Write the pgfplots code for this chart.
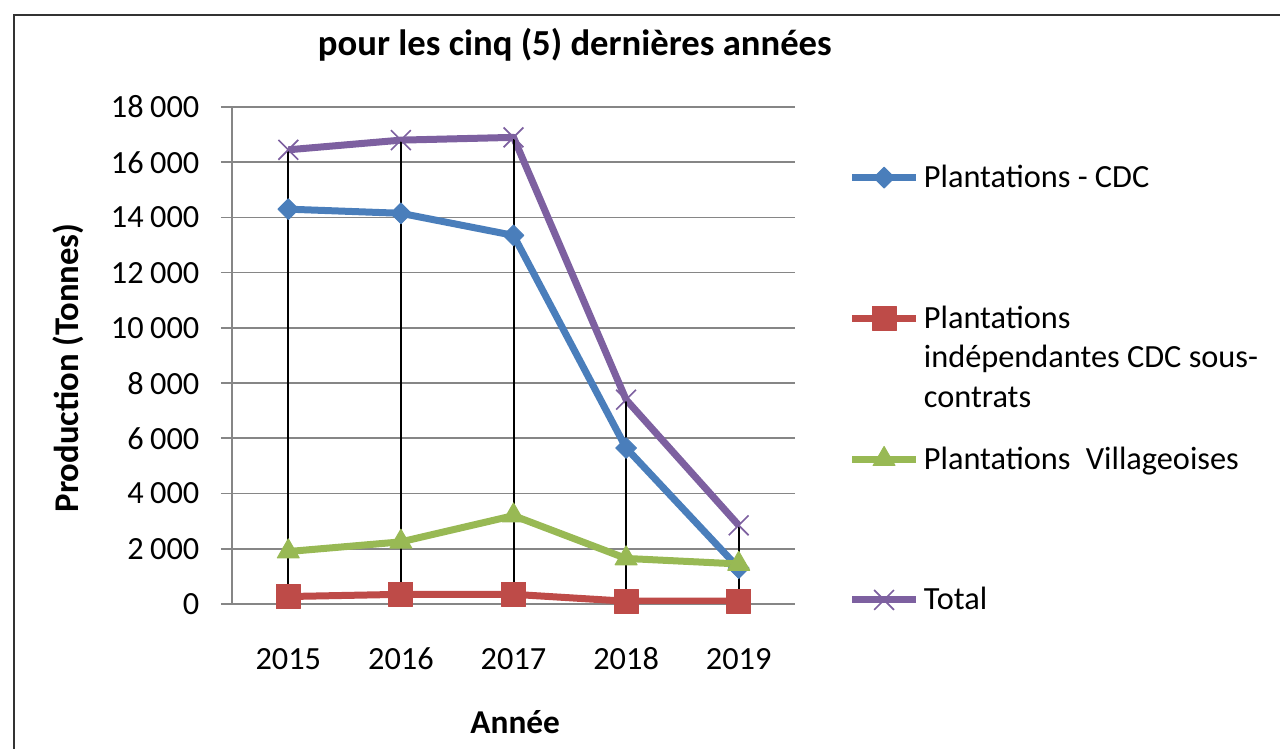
\documentclass[border=0pt]{standalone}
\usepackage{pgfplots}
\pgfplotsset{compat=1.18}
\usepackage{fontspec}
\setmainfont{Carlito}
\definecolor{cblue}{HTML}{4A7EBB}
\definecolor{cred}{HTML}{BE4B48}
\definecolor{cgreen}{HTML}{98B954}
\definecolor{cpurple}{HTML}{7D60A0}
\definecolor{cgrid}{HTML}{868686}
\begin{document}
\begin{tikzpicture}
\path[use as bounding box] (0,0) rectangle (384bp,224.7bp);
\draw[line width=0.5bp, black!80] (4.2bp,0) -- (4.2bp,220.2bp) -- (384bp,220.2bp);
\begin{axis}[
  at={(69.6bp,43.5bp)}, anchor=south west,
  scale only axis, width=168.9bp, height=149.1bp,
  xmin=-0.5, xmax=4.5, ymin=0, ymax=18000,
  xtick={0,1,2,3,4}, xticklabels={2015,2016,2017,2018,2019},
  ytick={0,2000,...,18000},
  scaled y ticks=false,
  axis x line*=bottom, axis y line*=left,
  axis line style={cgrid, line width=0.5bp},
  ymajorgrids, grid style={cgrid, line width=0.5bp},
  xtick style={draw=none}, ytick style={cgrid, line width=0.5bp},
  tick align=outside, major tick length=3.3bp,
  /pgf/number format/.cd, 1000 sep={\hspace{0.2em}}, assume math mode=true,
  /pgfplots/.cd,
  ticklabel style={font=\fontsize{9.7bp}{11bp}\selectfont},
  yticklabel style={inner sep=0pt, xshift=-6.3bp},
  xticklabel style={inner sep=0pt, anchor=base, yshift=-16.4bp},
  every axis title shift=0pt,
  title={pour les cinq (5) dernières années},
  title style={font=\bfseries\fontsize{11bp}{13bp}\selectfont, at={(axis description cs:0.609,1.125)}, anchor=center},
  xlabel={Année},
  xlabel style={font=\bfseries\fontsize{10bp}{12bp}\selectfont, at={(axis description cs:0.503,-0.237)}, anchor=center},
  ylabel={Production (Tonnes)},
  ylabel style={font=\bfseries\fontsize{10.4bp}{12bp}\selectfont, at={(axis description cs:-0.291,0.475)}, anchor=center},
  legend style={at={(axis description cs:1.094,0.893)}, anchor=north west, draw=none, fill=none, inner sep=0pt,
    font=\fontsize{9.7bp}{11.85bp}\selectfont, cells={anchor=base west}, row sep=31.4bp, column sep=0pt,
    nodes={inner sep=1.3bp}},
  legend image code/.code={\draw[mark repeat=2,mark phase=2,#1] plot coordinates {(0bp,3bp)(9.6bp,3bp)(19.2bp,3bp)};},
]
\addplot[cblue, line width=2.1bp, line join=round, mark=square*, mark size=2.2bp, mark options={rotate=45, solid, fill=cblue, draw=cblue, line width=0.3bp}]
  coordinates {(0,14300)(1,14150)(2,13350)(3,5650)(4,1300)};
\addlegendentry{Plantations - CDC}
\addplot[cred, line width=2.1bp, line join=round, mark=square*, mark size=3.6bp, mark options={solid, fill=cred, draw=cred, line width=0.3bp}]
  coordinates {(0,270)(1,350)(2,350)(3,100)(4,100)};
\addlegendentry{\parbox[t]{110bp}{\raggedright Plantations\\indépendantes CDC sous-\\contrats}}
\addplot[cgreen, line width=2.1bp, line join=round, mark=triangle*, mark size=3.8bp, mark options={solid, fill=cgreen, draw=cgreen, line width=0.3bp}]
  coordinates {(0,1900)(1,2250)(2,3200)(3,1650)(4,1450)};
\addlegendentry{Plantations\hspace{0.25em} Villageoises}
\addplot[cpurple, line width=2.1bp, line join=round, mark=x, mark size=4.2bp, mark options={solid, line width=0.5bp}]
  coordinates {(0,16450)(1,16800)(2,16900)(3,7400)(4,2850)};
\addlegendentry{Total}
\addplot[black, line width=0.6bp, forget plot] coordinates {(0,270)(0,16450)};
\addplot[black, line width=0.6bp, forget plot] coordinates {(1,350)(1,16800)};
\addplot[black, line width=0.6bp, forget plot] coordinates {(2,350)(2,16900)};
\addplot[black, line width=0.6bp, forget plot] coordinates {(3,100)(3,7400)};
\addplot[black, line width=0.6bp, forget plot] coordinates {(4,100)(4,2850)};
\end{axis}
\end{tikzpicture}
\end{document}
